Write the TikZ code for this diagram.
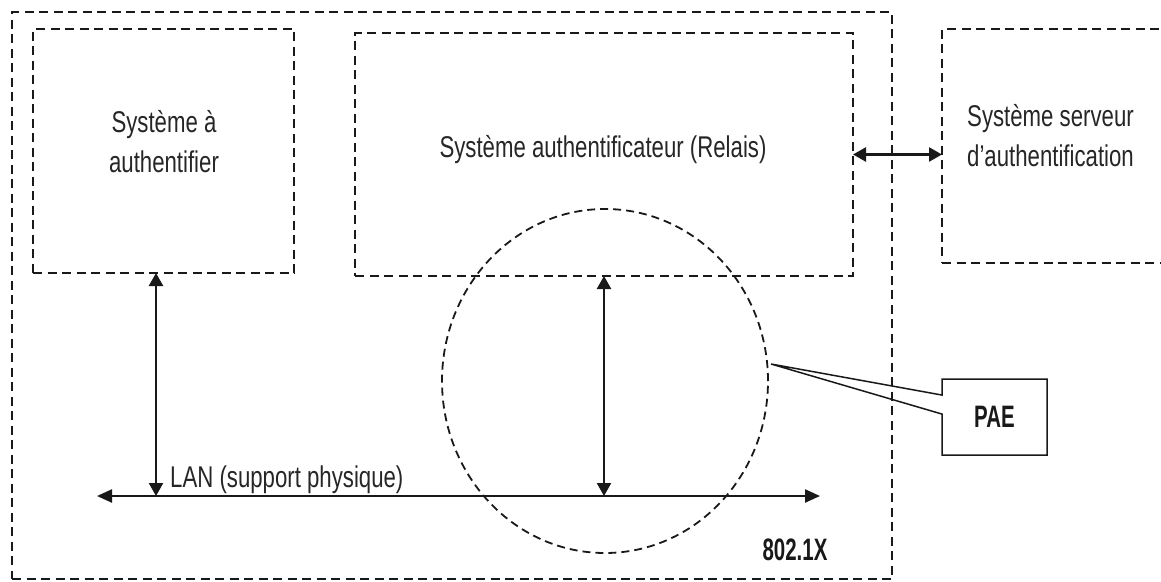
\documentclass[tikz,border=0pt]{standalone}
\usepackage{fontspec}
\setmainfont{Liberation Sans}[FakeStretch=0.74]
\newfontfamily\tagfont{Liberation Sans}[FakeStretch=0.66]
\usetikzlibrary{arrows.meta,shapes.geometric,shapes.callouts}

\tikzset{
  dbox/.style={draw=black!90, line width=2.8pt, dash pattern=on 9pt off 5.5pt,
               inner sep=0pt, outer sep=0pt},
  ring/.style={draw=black!90, ellipse, line width=1.8pt,
               dash pattern=on 8pt off 5pt, inner sep=0pt},
  link/.style={draw=black!90, line width=2.4pt,
               {Triangle[length=13pt,width=14pt]}-{Triangle[length=13pt,width=14pt]}},
  busline/.style={draw=black!90, line width=2.4pt,
               {Triangle[length=15pt,width=13pt]}-{Triangle[length=15pt,width=13pt]}},
  lbl/.style={inner sep=0pt, text=black!85,
              font=\fontsize{30}{40}\selectfont},
  tag/.style={inner sep=0pt, text=black!90,
              font=\tagfont\bfseries\fontsize{31}{36}\selectfont},
}

\begin{document}
\begin{tikzpicture}[x=1pt,y=-1pt]
  \useasboundingbox (0,0) rectangle (1161,581);
  \clip (0,0) rectangle (1161,581);

  % 802.1X system and its three boxes
  \node[dbox, minimum width=880pt, minimum height=567pt] (sys) at (452,295.5) {};
  \node[dbox, minimum width=261pt, minimum height=244pt] (sup) at (163.5,151) {};
  \node[dbox, minimum width=498pt, minimum height=243pt] (auth) at (604,154.5) {};
  \node[dbox, minimum width=238pt, minimum height=234pt] (srv) at (1061,146) {};

  % box texts
  \node[lbl, anchor=north, align=center] (supt) at (164,110) {Système à\\authentifier};
  \node[lbl, anchor=base] (autht) at (603,157) {Système authentificateur (Relais)};
  \node[lbl, anchor=north west, align=left] (srvt) at (967,104) {Système serveur\\d’authentification};

  % physical LAN
  \coordinate (lanL) at (97,496);
  \coordinate (lanR) at (820,496);
  \coordinate (f1) at (156,496);
  \draw[busline] (lanL) -- (lanR);
  \node[lbl, anchor=base west] (lant) at (170,487) {LAN (support physique)};

  % links
  \draw[link] (sup.south -| f1) -- (f1);
  \draw[link] (auth.south) -- (auth.south |- lanL);
  \draw[link] (auth.east) -- (auth.east -| srv.west);

  % port access entity
  \node[ring, minimum width=326pt, minimum height=344pt] (pae) at (605,381) {};
  \coordinate (tip) at (771,364);
  \node[rectangle callout, draw=black!90, line width=1.5pt, tag,
        minimum width=105pt, minimum height=76pt,
        callout absolute pointer={(tip)}, callout pointer width=19pt]
        (paet) at (994.5,417) {PAE};

  \node[tag, anchor=base] (std) at (795,560) {802.1X};
\end{tikzpicture}
\end{document}
